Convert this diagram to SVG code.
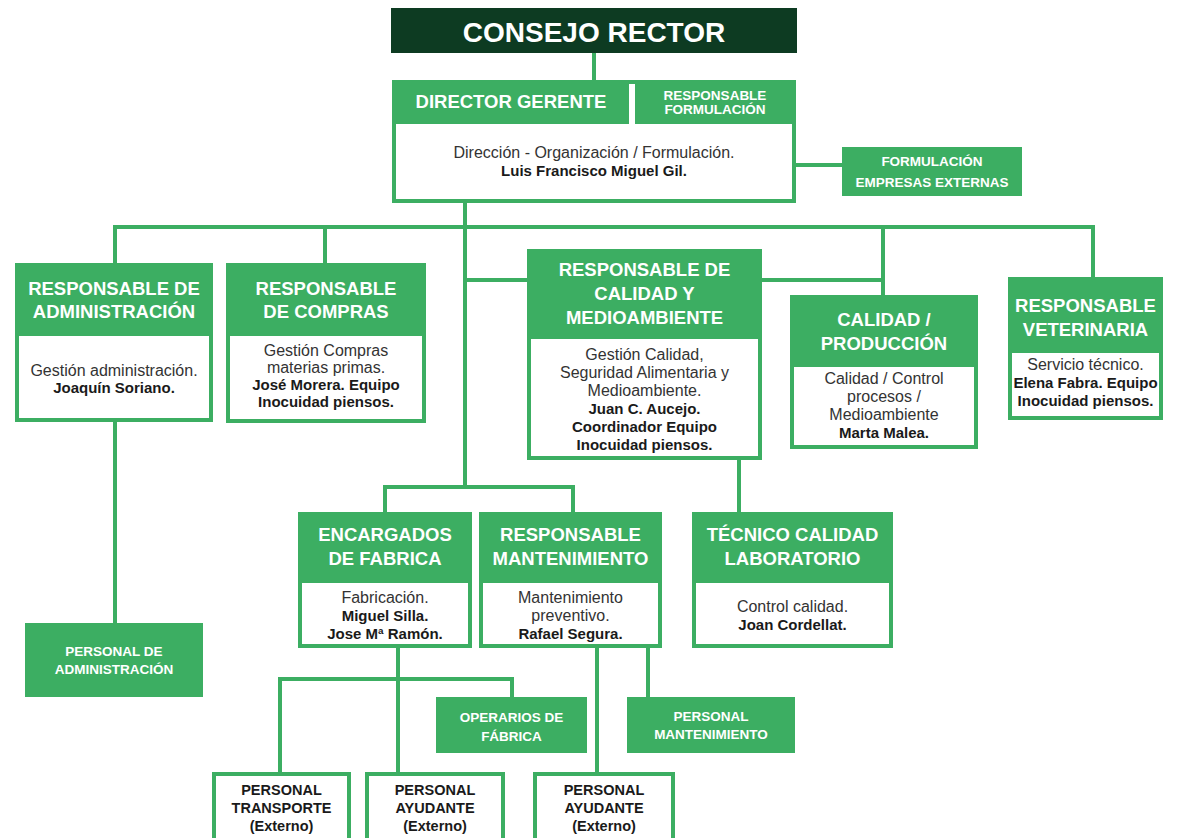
<svg xmlns="http://www.w3.org/2000/svg" width="1180" height="838" viewBox="0 0 1180 838">
<style>
  text { font-family: "Liberation Sans", Arial, sans-serif; text-anchor: middle; }
  .hd { fill: #3cae62; }
  .bx { fill: #ffffff; stroke: #3cae62; stroke-width: 4; }
  .h { fill: #ffffff; font-weight: bold; font-size: 18.5px; }
  .s { fill: #ffffff; font-weight: bold; font-size: 13.5px; }
  .b { fill: #333333; font-size: 16px; }
  .bb { fill: #1a1a1a; font-weight: bold; font-size: 15px; }
  .e { fill: #1a1a1a; font-weight: bold; font-size: 14.5px; }
  .ln { fill: none; stroke: #3cae62; stroke-width: 4; }
</style>
<rect width="1180" height="838" fill="#ffffff"/>
<g id="connectors">
  <path class="ln" d="M594 53 V80"/>
  <path class="ln" d="M796 165 H842"/>
  <path class="ln" d="M465 203 V487"/>
  <path class="ln" d="M115 263 V227 H1093 V277"/>
  <path class="ln" d="M325 227 V263"/>
  <path class="ln" d="M883 227 V295"/>
  <path class="ln" d="M465 280 H883"/>
  <path class="ln" d="M115 421 V623"/>
  <path class="ln" d="M385 512 V487 H573 V512"/>
  <path class="ln" d="M739 460 V512"/>
  <path class="ln" d="M398 648 V772"/>
  <path class="ln" d="M280 772 V679 H512 V697"/>
  <path class="ln" d="M597 648 V772"/>
  <path class="ln" d="M648 648 V697"/>
</g>
<g id="consejo">
  <rect x="391" y="8" width="406" height="45" fill="#0d3b22"/>
  <text x="594" y="42" fill="#ffffff" font-weight="bold" font-size="28">CONSEJO RECTOR</text>
</g>
<g id="director">
  <rect class="bx" x="394" y="82" width="400" height="119"/>
  <rect class="hd" x="392" y="80" width="237" height="44"/>
  <rect class="hd" x="635" y="80" width="161" height="44"/>
  <text class="h" x="511" y="108" font-size="18">DIRECTOR GERENTE</text>
  <text class="s" x="715" y="100">RESPONSABLE</text>
  <text class="s" x="715" y="114">FORMULACIÓN</text>
  <text class="b" x="594" y="158" font-size="17">Dirección - Organización / Formulación.</text>
  <text class="bb" x="594" y="176" font-size="16">Luis Francisco Miguel Gil.</text>
</g>
<g id="formulacion-externas">
  <rect class="hd" x="842" y="147" width="180" height="49"/>
  <text class="s" x="932" y="166">FORMULACIÓN</text>
  <text class="s" x="932" y="187">EMPRESAS EXTERNAS</text>
</g>
<g id="administracion">
  <rect class="bx" x="17" y="265" width="194" height="155"/>
  <rect class="hd" x="15" y="263" width="198" height="73"/>
  <text class="h" x="114" y="295">RESPONSABLE DE</text>
  <text class="h" x="114" y="318">ADMINISTRACIÓN</text>
  <text class="b" x="114" y="376">Gestión administración.</text>
  <text class="bb" x="114" y="393">Joaquín Soriano.</text>
</g>
<g id="compras">
  <rect class="bx" x="228" y="265" width="196" height="156"/>
  <rect class="hd" x="226" y="263" width="200" height="73"/>
  <text class="h" x="326" y="295">RESPONSABLE</text>
  <text class="h" x="326" y="318">DE COMPRAS</text>
  <text class="b" x="326" y="356">Gestión Compras</text>
  <text class="b" x="326" y="373">materias primas.</text>
  <text class="bb" x="326" y="390">José Morera. Equipo</text>
  <text class="bb" x="326" y="407">Inocuidad piensos.</text>
</g>
<g id="calidad-medioambiente">
  <rect class="bx" x="529" y="251" width="231" height="207"/>
  <rect class="hd" x="527" y="249" width="235" height="90"/>
  <text class="h" x="644.5" y="276">RESPONSABLE DE</text>
  <text class="h" x="644.5" y="300">CALIDAD Y</text>
  <text class="h" x="644.5" y="324">MEDIOAMBIENTE</text>
  <text class="b" x="644.5" y="360">Gestión Calidad,</text>
  <text class="b" x="644.5" y="378">Seguridad Alimentaria y</text>
  <text class="b" x="644.5" y="396">Medioambiente.</text>
  <text class="bb" x="644.5" y="414">Juan C. Aucejo.</text>
  <text class="bb" x="644.5" y="432">Coordinador Equipo</text>
  <text class="bb" x="644.5" y="450">Inocuidad piensos.</text>
</g>
<g id="calidad-produccion">
  <rect class="bx" x="792" y="297" width="184" height="150"/>
  <rect class="hd" x="790" y="295" width="188" height="72"/>
  <text class="h" x="884" y="326">CALIDAD /</text>
  <text class="h" x="884" y="350">PRODUCCIÓN</text>
  <text class="b" x="884" y="384">Calidad / Control</text>
  <text class="b" x="884" y="402">procesos /</text>
  <text class="b" x="884" y="420">Medioambiente</text>
  <text class="bb" x="884" y="438">Marta Malea.</text>
</g>
<g id="veterinaria">
  <rect class="bx" x="1010" y="279" width="151" height="139"/>
  <rect class="hd" x="1008" y="277" width="155" height="76"/>
  <text class="h" x="1085.5" y="312">RESPONSABLE</text>
  <text class="h" x="1085.5" y="336">VETERINARIA</text>
  <text class="b" x="1085.5" y="370">Servicio técnico.</text>
  <text class="bb" x="1085.5" y="388">Elena Fabra. Equipo</text>
  <text class="bb" x="1085.5" y="406">Inocuidad piensos.</text>
</g>
<g id="encargados">
  <rect class="bx" x="300" y="514" width="170" height="132"/>
  <rect class="hd" x="298" y="512" width="174" height="71"/>
  <text class="h" x="385" y="541">ENCARGADOS</text>
  <text class="h" x="385" y="565">DE FABRICA</text>
  <text class="b" x="385" y="603">Fabricación.</text>
  <text class="bb" x="385" y="621">Miguel Silla.</text>
  <text class="bb" x="385" y="639">Jose Mª Ramón.</text>
</g>
<g id="mantenimiento">
  <rect class="bx" x="481" y="514" width="179" height="132"/>
  <rect class="hd" x="479" y="512" width="183" height="71"/>
  <text class="h" x="570.5" y="541">RESPONSABLE</text>
  <text class="h" x="570.5" y="565">MANTENIMIENTO</text>
  <text class="b" x="570.5" y="603">Mantenimiento</text>
  <text class="b" x="570.5" y="621">preventivo.</text>
  <text class="bb" x="570.5" y="639">Rafael Segura.</text>
</g>
<g id="tecnico-laboratorio">
  <rect class="bx" x="694" y="514" width="197" height="132"/>
  <rect class="hd" x="692" y="512" width="201" height="71"/>
  <text class="h" x="792.5" y="541">TÉCNICO CALIDAD</text>
  <text class="h" x="792.5" y="565">LABORATORIO</text>
  <text class="b" x="792.5" y="612">Control calidad.</text>
  <text class="bb" x="792.5" y="630">Joan Cordellat.</text>
</g>
<g id="personal-administracion">
  <rect class="hd" x="25" y="623" width="178" height="74"/>
  <text class="s" x="114" y="656">PERSONAL DE</text>
  <text class="s" x="114" y="674">ADMINISTRACIÓN</text>
</g>
<g id="operarios">
  <rect class="hd" x="436" y="697" width="151" height="56"/>
  <text class="s" x="511.5" y="722">OPERARIOS DE</text>
  <text class="s" x="511.5" y="741">FÁBRICA</text>
</g>
<g id="personal-mantenimiento">
  <rect class="hd" x="627" y="697" width="168" height="56"/>
  <text class="s" x="711" y="721">PERSONAL</text>
  <text class="s" x="711" y="739">MANTENIMIENTO</text>
</g>
<g id="personal-transporte">
  <rect class="bx" x="214" y="774" width="135" height="80"/>
  <text class="e" x="281.5" y="795">PERSONAL</text>
  <text class="e" x="281.5" y="813">TRANSPORTE</text>
  <text class="e" x="281.5" y="831">(Externo)</text>
</g>
<g id="personal-ayudante-1">
  <rect class="bx" x="367" y="774" width="136" height="80"/>
  <text class="e" x="435" y="795">PERSONAL</text>
  <text class="e" x="435" y="813">AYUDANTE</text>
  <text class="e" x="435" y="831">(Externo)</text>
</g>
<g id="personal-ayudante-2">
  <rect class="bx" x="535" y="774" width="138" height="80"/>
  <text class="e" x="604" y="795">PERSONAL</text>
  <text class="e" x="604" y="813">AYUDANTE</text>
  <text class="e" x="604" y="831">(Externo)</text>
</g>
</svg>
